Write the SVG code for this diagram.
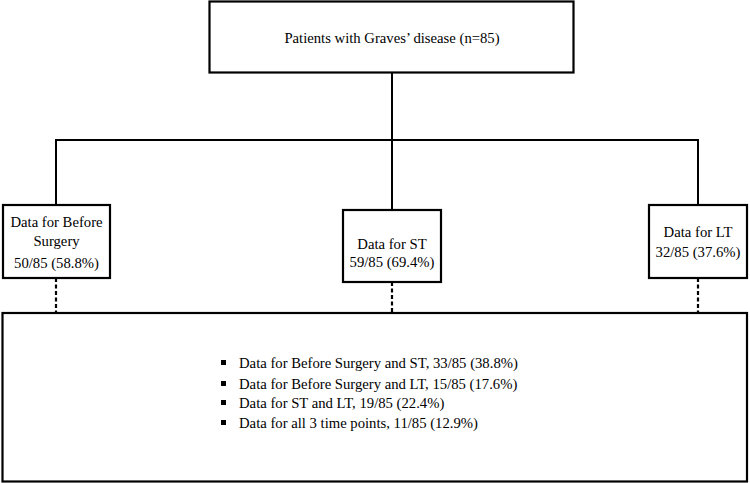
<svg xmlns="http://www.w3.org/2000/svg" width="750" height="483" viewBox="0 0 750 483">
<style>
.box{fill:#fff;stroke:#000;stroke-width:2.2}
.ln{fill:none;stroke:#000;stroke-width:2}
.dash{fill:none;stroke:#000;stroke-width:2.2;stroke-dasharray:4 2.5}
text{font-family:"Liberation Serif","Times New Roman",serif;font-size:14.7px;fill:#000}
.c{text-anchor:middle}
</style>
<rect width="750" height="483" fill="#fff"/>
<g id="connectors">
<line class="ln" x1="392" y1="72" x2="392" y2="140"/>
<polyline class="ln" points="56,205 56,140 698,140 698,205"/>
<line class="ln" x1="392" y1="140" x2="392" y2="210"/>
<line class="dash" x1="56" y1="278" x2="56" y2="313"/>
<line class="dash" x1="392" y1="282" x2="392" y2="313"/>
<line class="dash" x1="698" y1="278" x2="698" y2="313"/>
</g>
<g id="root">
<rect class="box" x="209.5" y="1.5" width="364" height="71"/>
<text class="c" x="392" y="43">Patients with Graves’ disease (n=85)</text>
</g>
<g id="before">
<rect class="box" x="3" y="205" width="107" height="73"/>
<text class="c" x="56.5" y="227">Data for Before</text>
<text class="c" x="56.5" y="246">Surgery</text>
<text class="c" x="56.5" y="268">50/85 (58.8%)</text>
</g>
<g id="st">
<rect class="box" x="343" y="210" width="98" height="72"/>
<text class="c" x="392" y="249">Data for ST</text>
<text class="c" x="392" y="267">59/85 (69.4%)</text>
</g>
<g id="lt">
<rect class="box" x="649" y="205" width="98" height="73"/>
<text class="c" x="698" y="237">Data for LT</text>
<text class="c" x="698" y="257">32/85 (37.6%)</text>
</g>
<g id="overlap">
<rect class="box" x="2.5" y="313" width="744.5" height="168.5"/>
<rect x="221" y="360" width="5" height="5"/>
<rect x="221" y="381" width="5" height="5"/>
<rect x="221" y="400" width="5" height="5"/>
<rect x="221" y="420" width="5" height="5"/>
<text x="239" y="368">Data for Before Surgery and ST, 33/85 (38.8%)</text>
<text x="239" y="389">Data for Before Surgery and LT, 15/85 (17.6%)</text>
<text x="239" y="408">Data for ST and LT, 19/85 (22.4%)</text>
<text x="239" y="428">Data for all 3 time points, 11/85 (12.9%)</text>
</g>
</svg>
